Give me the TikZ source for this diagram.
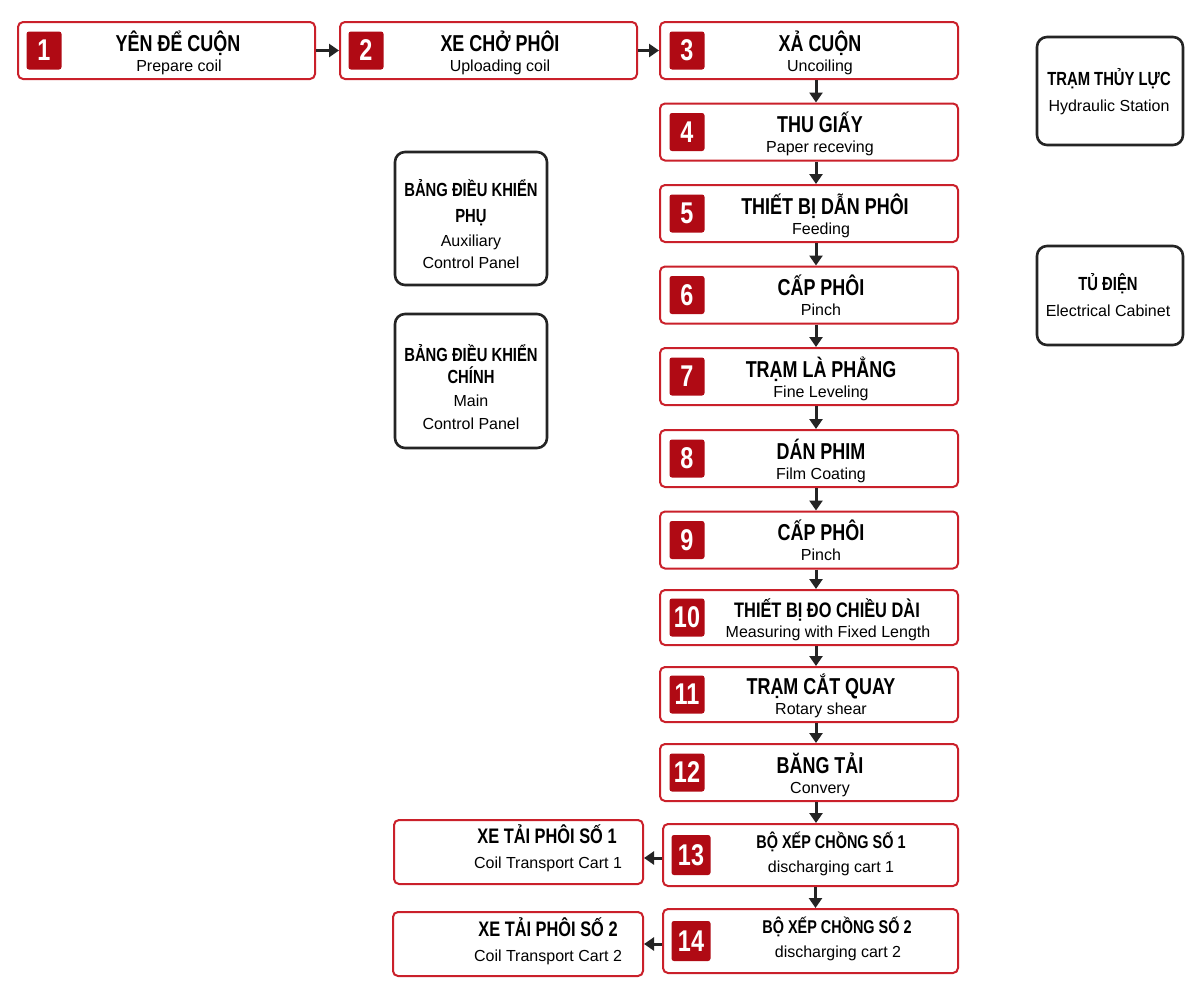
\documentclass[tikz,border=0pt]{standalone}
\usepackage{fontspec}
\setmainfont{Liberation Sans}
\newfontfamily\condfont{Liberation Sans}[FakeStretch=0.78]
\usetikzlibrary{arrows.meta}
\definecolor{boxred}{RGB}{202,32,42}
\definecolor{badgered}{RGB}{176,10,20}
\definecolor{boxgray}{RGB}{36,36,36}
\begin{document}
\begin{tikzpicture}
[every node/.style={inner sep=0pt},
 stepbox/.style={rectangle, rounded corners=5pt, draw=boxred, line width=2pt, fill=white, minimum width=298pt, minimum height=57pt},
 unitbox/.style={rectangle, rounded corners=10pt, draw=boxgray, line width=2.6pt, fill=white, minimum width=146pt},
 badge/.style={rectangle, rounded corners=2.5pt, fill=badgered, text=white, minimum width=35pt, minimum height=38pt, font=\condfont\fontsize{30}{30}\selectfont\bfseries},
 steptitle/.style={anchor=base, align=center, font=\condfont\fontsize{23}{23}\selectfont\bfseries},
 unittitle/.style={anchor=base, align=center, font=\condfont\fontsize{19}{22}\selectfont\bfseries},
 stepsub/.style={anchor=base, align=center, font=\fontsize{16}{22}\selectfont},
 flow/.style={line width=3pt, draw=boxgray, -{Triangle[length=10pt, width=13pt]}}]
\fill [white] (0pt, 0pt) rectangle (1200pt, -996pt);
\useasboundingbox (0pt, 0pt) rectangle (1200pt, -996pt);
% top row
\node (s1) [stepbox, minimum width=297pt] at (166.5pt, -50.5pt) {};
\node (s2) [stepbox, minimum width=297pt] at (488.5pt, -50.5pt) {};
\node (s3) [stepbox] at (809pt, -50.5pt) {};
% main column
\node (s4) [stepbox] at (809pt, -132pt) {};
\node (s5) [stepbox] at (809pt, -213.5pt) {};
\node (s6) [stepbox] at (809pt, -295pt) {};
\node (s7) [stepbox] at (809pt, -376.5pt) {};
\node (s8) [stepbox] at (809pt, -458.5pt) {};
\node (s9) [stepbox] at (809pt, -540pt) {};
\node (s10) [stepbox, minimum height=55pt] at (809pt, -617.5pt) {};
\node (s11) [stepbox, minimum height=55pt] at (809pt, -694.5pt) {};
\node (s12) [stepbox] at (809pt, -772.5pt) {};
\node (s13) [stepbox, minimum width=295pt, minimum height=62pt] at (810.5pt, -855pt) {};
\node (s14) [stepbox, minimum width=295pt, minimum height=64pt] at (810.5pt, -941pt) {};
% carts
\node (x1) [stepbox, minimum width=249pt, minimum height=64pt] at (518.5pt, -852pt) {};
\node (x2) [stepbox, minimum width=250pt, minimum height=64pt] at (518pt, -944pt) {};
% side units
\node (hyd) [unitbox, minimum height=108pt] at (1110pt, -91pt) {};
\node (cab) [unitbox, minimum height=99pt] at (1110pt, -295.5pt) {};
\node (aux) [unitbox, minimum width=152pt, minimum height=133pt] at (471pt, -218.5pt) {};
\node (main) [unitbox, minimum width=152pt, minimum height=134pt] at (471pt, -381pt) {};
% badges
\node (n1) [badge] at ([xshift=27pt]s1.west) {1};
\node (n2) [badge] at ([xshift=27pt]s2.west) {2};
\node (n3) [badge] at ([xshift=28pt]s3.west) {3};
\node (n4) [badge] at ([xshift=28pt]s4.west) {4};
\node (n5) [badge] at ([xshift=28pt]s5.west) {5};
\node (n6) [badge] at ([xshift=28pt]s6.west) {6};
\node (n7) [badge] at ([xshift=28pt]s7.west) {7};
\node (n8) [badge] at ([xshift=28pt]s8.west) {8};
\node (n9) [badge] at ([xshift=28pt]s9.west) {9};
\node (n10) [badge] at ([xshift=28pt]s10.west) {10};
\node (n11) [badge] at ([xshift=28pt]s11.west) {11};
\node (n12) [badge] at ([xshift=28pt]s12.west) {12};
\node (n13) [badge, minimum width=39pt, minimum height=40pt] at ([xshift=29pt]s13.west) {13};
\node (n14) [badge, minimum width=39pt, minimum height=40pt] at ([xshift=29pt]s14.west) {14};
% texts
\node (t1) [steptitle] at (178pt, -51pt) {YÊN ĐỂ CUỘN};
\node (u1) [stepsub] at (179pt, -71pt) {Prepare coil};
\node (t2) [steptitle] at (500pt, -51pt) {XE CHỞ PHÔI};
\node (u2) [stepsub] at (500pt, -71pt) {Uploading coil};
\node (t3) [steptitle] at (820pt, -51pt) {XẢ CUỘN};
\node (u3) [stepsub] at (820pt, -71pt) {Uncoiling};
\node (t4) [steptitle] at (820pt, -132.5pt) {THU GIẤY};
\node (u4) [stepsub] at (820pt, -152.5pt) {Paper receving};
\node (t5) [steptitle] at (825pt, -214pt) {THIẾT BỊ DẪN PHÔI};
\node (u5) [stepsub] at (821pt, -234pt) {Feeding};
\node (t6) [steptitle] at (821pt, -295.5pt) {CẤP PHÔI};
\node (u6) [stepsub] at (821pt, -315.5pt) {Pinch};
\node (t7) [steptitle] at (821pt, -377pt) {TRẠM LÀ PHẲNG};
\node (u7) [stepsub] at (821pt, -397pt) {Fine Leveling};
\node (t8) [steptitle] at (821pt, -459pt) {DÁN PHIM};
\node (u8) [stepsub] at (821pt, -479pt) {Film Coating};
\node (t9) [steptitle] at (821pt, -540.5pt) {CẤP PHÔI};
\node (u9) [stepsub] at (821pt, -560.5pt) {Pinch};
\node (t10) [steptitle, font=\condfont\fontsize{21}{21}\selectfont\bfseries] at (827pt, -617pt) {THIẾT BỊ ĐO CHIỀU DÀI};
\node (u10) [stepsub] at (828pt, -637pt) {Measuring with Fixed Length};
\node (t11) [steptitle] at (821pt, -694pt) {TRẠM CẮT QUAY};
\node (u11) [stepsub] at (821pt, -714pt) {Rotary shear};
\node (t12) [steptitle] at (820pt, -773pt) {BĂNG TẢI};
\node (u12) [stepsub] at (820pt, -793pt) {Convery};
\node (t13) [steptitle, font=\condfont\fontsize{18.5}{18.5}\selectfont\bfseries] at (831pt, -848pt) {BỘ XẾP CHỒNG SỐ 1};
\node (u13) [stepsub] at (831pt, -872pt) {discharging cart 1};
\node (t14) [steptitle, font=\condfont\fontsize{18.5}{18.5}\selectfont\bfseries] at (837pt, -933pt) {BỘ XẾP CHỒNG SỐ 2};
\node (u14) [stepsub] at (838pt, -957pt) {discharging cart 2};
\node (tx1) [steptitle, font=\condfont\fontsize{21}{21}\selectfont\bfseries] at (547pt, -843pt) {XE TẢI PHÔI SỐ 1};
\node (ux1) [stepsub] at (548pt, -868pt) {Coil Transport Cart 1};
\node (tx2) [steptitle, font=\condfont\fontsize{21}{21}\selectfont\bfseries] at (548pt, -936pt) {XE TẢI PHÔI SỐ 2};
\node (ux2) [stepsub] at (548pt, -961pt) {Coil Transport Cart 2};
\node (thyd) [unittitle] at (1109pt, -85pt) {TRẠM THỦY LỰC};
\node (uhyd) [stepsub] at (1109pt, -111pt) {Hydraulic Station};
\node (tcab) [unittitle] at (1108pt, -290pt) {TỦ ĐIỆN};
\node (ucab) [stepsub] at (1108pt, -316pt) {Electrical Cabinet};
\node (taux) [unittitle, font=\condfont\fontsize{19}{26}\selectfont\bfseries] at (471pt, -222pt) {BẢNG ĐIỀU KHIỂN\\PHỤ};
\node (uaux) [stepsub] at (471pt, -268pt) {Auxiliary\\Control Panel};
\node (tmain) [unittitle] at (471pt, -383pt) {BẢNG ĐIỀU KHIỂN\\CHÍNH};
\node (umain) [stepsub, font=\fontsize{16}{23}\selectfont] at (471pt, -429pt) {Main\\Control Panel};
% connectors
\draw [flow] (s1) -- (s2);
\draw [flow] (s2) -- (s3);
\draw [flow] ([xshift=7pt]s3.south) -- ([xshift=7pt]s3.south |- s4.north);
\draw [flow] ([xshift=7pt]s4.south) -- ([xshift=7pt]s4.south |- s5.north);
\draw [flow] ([xshift=7pt]s5.south) -- ([xshift=7pt]s5.south |- s6.north);
\draw [flow] ([xshift=7pt]s6.south) -- ([xshift=7pt]s6.south |- s7.north);
\draw [flow] ([xshift=7pt]s7.south) -- ([xshift=7pt]s7.south |- s8.north);
\draw [flow] ([xshift=7pt]s8.south) -- ([xshift=7pt]s8.south |- s9.north);
\draw [flow] ([xshift=7pt]s9.south) -- ([xshift=7pt]s9.south |- s10.north);
\draw [flow] ([xshift=7pt]s10.south) -- ([xshift=7pt]s10.south |- s11.north);
\draw [flow] ([xshift=7pt]s11.south) -- ([xshift=7pt]s11.south |- s12.north);
\draw [flow] ([xshift=7pt]s12.south) -- ([xshift=7pt]s12.south |- s13.north);
\draw [flow] ([xshift=5pt]s13.south) -- ([xshift=5pt]s13.south |- s14.north);
\draw [flow] ([yshift=-3pt]s13.west) -- ([yshift=-3pt]s13.west -| x1.east);
\draw [flow] ([yshift=-3pt]s14.west) -- ([yshift=-3pt]s14.west -| x2.east);
\end{tikzpicture}
\end{document}
